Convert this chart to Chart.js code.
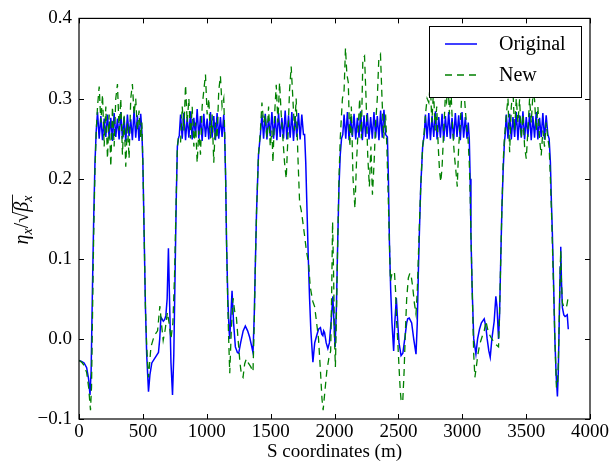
<!DOCTYPE html>
<html><head><meta charset="utf-8">
<script src="https://cdn.jsdelivr.net/npm/chart.js@4/dist/chart.umd.min.js"></script>
<style>html,body{margin:0;padding:0;background:#fff;}canvas{display:block;}</style>
</head><body>
<canvas id="c" width="611" height="462"></canvas>
<script>
const xTicks = [0, 500, 1000, 1500, 2000, 2500, 3000, 3500, 4000];
const yTicks = [-0.1, 0.0, 0.1, 0.2, 0.3, 0.4];
const seriesNames = ['Original', 'New'];

const origS = [
0,20,40,60,75,86,95,105,115,125,135,
145,158,171,184,197,210,223,236,249,262,275,288,301,314,327,340,353,366,379,392,405,418,431,444,457,470,483,492,
500,510,520,530,544,555,570,590,610,622,632,641,650,660,670,680,690,700,710,720,732,742,752,762,770,778,
785,795,808,821,834,847,860,873,886,899,912,925,938,951,964,977,990,1003,1016,1029,1042,1055,1068,1081,1094,1107,1120,1133,1140,
1148,1155,1165,1175,1180,1189,1198,1210,1224,1240,1250,1265,1285,1302,1320,1336,1350,1362,1372,1380,1390,1405,1420,
1432,1445,1458,1471,1484,1497,1510,1523,1536,1549,1562,1575,1588,1601,1614,1627,1640,1653,1666,1679,1692,1705,1718,1731,1744,1757,1766,
1775,1785,1795,1805,1815,1831,1845,1857,1875,1890,1900,1909,1915,1922,1935,1948,1960,1975,1987,1996,2005,2015,2025,2035,2045,2055,2065,
2075,2088,2101,2114,2127,2140,2153,2166,2179,2192,2205,2218,2231,2244,2257,2270,2283,2296,2309,2322,2335,2348,2361,2374,2387,2400,2414,
2422,2430,2440,2450,2463,2472,2484,2495,2505,2521,2535,2550,2565,2573,2585,2604,2620,2638,2648,2656,2664,2675,2690,2703,
2712,2725,2738,2751,2764,2777,2790,2803,2816,2829,2842,2855,2868,2881,2894,2907,2920,2933,2946,2959,2972,2985,2998,3011,3024,3037,3047,3055,
3062,3068,3078,3090,3107,3120,3135,3150,3172,3185,3195,3208,3219,3232,3250,3263,3272,3284,3292,3300,3310,3320,3330,3336,
3345,3358,3371,3384,3397,3410,3423,3436,3449,3462,3475,3488,3501,3514,3527,3540,3553,3566,3579,3592,3605,3618,3631,3644,3657,3670,3680,
3690,3698,3705,3715,3725,3735,3745,3752,3760,3767,3771,3777,3784,3795,3805,3815,3822,3830
];
const origY = [
-0.027,-0.028,-0.030,-0.036,-0.050,-0.070,-0.040,0.060,0.150,0.220,0.260,
0.283,0.250,0.278,0.248,0.275,0.252,0.280,0.250,0.276,0.247,0.282,0.252,0.275,0.249,0.283,0.250,0.277,0.246,0.280,0.253,0.274,0.248,0.286,0.251,0.279,0.247,0.281,0.260,
0.220,0.130,0.040,-0.020,-0.066,-0.045,-0.030,-0.025,-0.020,-0.017,0.000,0.027,0.025,0.022,0.024,0.029,0.050,0.113,0.040,-0.030,-0.070,-0.020,0.080,0.180,0.240,0.250,
0.254,0.280,0.250,0.282,0.248,0.277,0.251,0.284,0.249,0.276,0.253,0.287,0.250,0.278,0.247,0.281,0.252,0.275,0.249,0.283,0.251,0.278,0.248,0.282,0.250,0.277,0.252,0.280,0.255,
0.200,0.120,0.050,0.010,0.000,0.030,0.060,0.020,-0.010,-0.017,-0.018,-0.005,0.010,0.016,0.010,0.002,-0.008,-0.017,0.030,0.090,0.160,0.230,0.255,
0.280,0.250,0.281,0.249,0.276,0.253,0.283,0.250,0.278,0.248,0.282,0.252,0.276,0.250,0.285,0.249,0.279,0.251,0.283,0.247,0.278,0.252,0.282,0.249,0.280,0.255,0.255,
0.220,0.160,0.100,0.050,0.010,-0.029,-0.005,0.002,0.012,0.014,0.006,0.004,0.010,0.008,-0.005,-0.012,-0.005,0.025,0.053,0.020,-0.010,0.040,0.120,0.190,0.230,0.250,0.255,
0.280,0.250,0.283,0.248,0.277,0.252,0.281,0.249,0.276,0.251,0.284,0.248,0.279,0.252,0.282,0.249,0.277,0.250,0.283,0.251,0.278,0.248,0.285,0.251,0.286,0.255,0.252,
0.200,0.120,0.060,0.020,-0.015,0.020,0.051,0.020,-0.005,-0.021,-0.018,0.000,0.020,0.025,0.026,0.020,0.000,-0.019,0.020,0.080,0.130,0.190,0.240,0.255,
0.280,0.250,0.282,0.248,0.278,0.252,0.284,0.249,0.277,0.251,0.281,0.247,0.278,0.252,0.283,0.250,0.276,0.249,0.282,0.252,0.279,0.248,0.283,0.251,0.277,0.250,0.270,0.250,
0.200,0.130,0.060,0.000,-0.019,0.000,0.012,0.020,0.025,0.015,0.000,-0.015,-0.023,0.000,0.022,0.053,0.040,0.000,0.030,0.090,0.160,0.210,0.245,0.255,
0.280,0.250,0.281,0.249,0.277,0.252,0.283,0.248,0.279,0.251,0.284,0.249,0.277,0.252,0.282,0.248,0.278,0.251,0.283,0.249,0.276,0.252,0.282,0.249,0.279,0.255,0.250,
0.220,0.170,0.134,0.070,0.000,-0.045,-0.072,-0.040,0.030,0.090,0.115,0.070,0.039,0.030,0.028,0.029,0.030,0.012
];

const newS = [
0,20,40,60,75,90,98,105,115,125,135,
145,158,171,184,197,210,223,236,249,262,275,288,301,314,327,340,353,366,379,392,405,418,431,444,457,470,483,492,
500,510,520,530,544,563,589,615,633,648,659,675,692,705,720,735,748,760,770,778,
785,795,808,821,834,847,860,873,886,899,912,925,938,951,964,977,990,1003,1016,1029,1042,1055,1068,1081,1094,1107,1120,1133,1140,
1148,1155,1165,1172,1180,1192,1206,1218,1232,1245,1260,1272,1284,1297,1310,1325,1345,1362,1372,1380,1390,1405,1420,
1432,1445,1458,1471,1484,1497,1510,1518,1531,1544,1557,1570,1583,1596,1609,1622,1635,1648,1661,1674,1687,1700,1713,1727,1740,1752,
1765,1780,1797,1810,1830,1845,1860,1875,1890,1902,1911,1925,1940,1955,1970,1978,1985,1993,2000,2007,2015,2025,2035,2045,2055,2062,
2075,2086,2097,2108,2120,2132,2145,2160,2172,2185,2197,2210,2222,2235,2247,2260,2273,2285,2297,2310,2322,2335,2347,2360,2372,2385,2400,2410,
2420,2430,2438,2448,2458,2469,2478,2487,2495,2505,2515,2521,2534,2545,2555,2565,2578,2590,2599,2612,2625,2638,2648,2656,2664,2675,2690,2703,
2712,2725,2738,2750,2762,2775,2788,2800,2812,2822,2832,2842,2855,2867,2877,2888,2900,2912,2925,2938,2950,2961,2972,2985,2998,3010,3020,3032,3045,3055,
3062,3068,3078,3090,3099,3110,3122,3135,3146,3160,3172,3185,3195,3205,3224,3240,3255,3270,3284,3292,3300,3310,3320,3330,
3345,3358,3371,3384,3397,3410,3423,3436,3449,3462,3475,3488,3501,3514,3527,3540,3553,3566,3579,3592,3605,3618,3631,3644,3657,3670,3680,
3690,3700,3712,3725,3737,3745,3752,3760,3767,3771,3777,3784,3795,3805,3815,3822,3830
];
const newY = [
-0.027,-0.029,-0.033,-0.042,-0.060,-0.089,-0.060,0.020,0.130,0.210,0.260,
0.290,0.315,0.270,0.305,0.240,0.290,0.225,0.280,0.215,0.290,0.240,0.300,0.318,0.260,0.300,0.230,0.280,0.215,0.270,0.225,0.300,0.318,0.280,0.300,0.260,0.285,0.250,0.270,
0.220,0.130,0.040,-0.010,-0.048,-0.010,0.004,0.010,0.041,0.015,-0.002,0.012,0.033,0.020,0.000,0.020,0.080,0.170,0.240,0.250,
0.250,0.245,0.290,0.260,0.317,0.270,0.300,0.250,0.290,0.240,0.270,0.220,0.260,0.230,0.290,0.310,0.330,0.280,0.300,0.250,0.280,0.220,0.270,0.250,0.310,0.328,0.290,0.300,0.260,
0.200,0.120,0.040,-0.002,-0.043,0.010,0.051,0.035,0.027,0.000,-0.030,-0.045,-0.048,-0.031,-0.025,-0.030,-0.035,-0.041,0.020,0.090,0.160,0.230,0.260,
0.295,0.270,0.280,0.250,0.290,0.240,0.260,0.220,0.280,0.317,0.270,0.320,0.280,0.250,0.220,0.200,0.250,0.310,0.340,0.300,0.260,0.300,0.230,0.170,0.160,0.146,
0.130,0.110,0.095,0.065,0.047,0.040,0.020,0.000,-0.040,-0.075,-0.089,-0.065,-0.040,-0.025,-0.015,0.060,0.146,0.080,0.000,-0.035,0.030,0.120,0.200,0.250,0.280,0.300,
0.310,0.363,0.330,0.320,0.240,0.290,0.200,0.163,0.220,0.260,0.300,0.250,0.350,0.353,0.300,0.229,0.190,0.240,0.180,0.220,0.270,0.300,0.350,0.355,0.300,0.250,0.280,0.240,
0.180,0.120,0.072,0.080,0.082,0.084,0.060,0.020,-0.002,-0.035,-0.065,-0.076,-0.079,-0.040,0.010,0.050,0.076,0.082,0.080,0.065,0.045,0.031,0.060,0.100,0.140,0.190,0.240,0.260,
0.280,0.300,0.295,0.320,0.270,0.310,0.260,0.290,0.240,0.210,0.196,0.214,0.260,0.300,0.295,0.320,0.280,0.310,0.260,0.230,0.210,0.190,0.240,0.270,0.310,0.330,0.295,0.270,0.250,0.220,
0.180,0.130,0.060,-0.020,-0.048,-0.035,-0.020,-0.008,-0.002,0.005,0.010,0.022,0.015,0.008,0.002,-0.002,-0.006,-0.008,-0.010,0.030,0.090,0.160,0.220,0.250,
0.280,0.300,0.233,0.290,0.310,0.260,0.300,0.270,0.299,0.250,0.280,0.240,0.225,0.260,0.300,0.270,0.305,0.299,0.260,0.290,0.250,0.229,0.260,0.240,0.270,0.250,0.240,
0.200,0.150,0.080,0.000,-0.060,-0.060,-0.030,0.030,0.090,0.110,0.070,0.045,0.040,0.039,0.039,0.045,0.053
];

const colors = ['#0000ff', '#008000'];
const serif = "'Liberation Serif', 'DejaVu Serif', serif";

function pts(S, Y) { return S.map((s, i) => ({ x: s, y: Y[i] })); }

const framePlugin = {
  id: 'frame',
  afterDraw(chart) {
    const { ctx, chartArea: a, scales } = chart;
    ctx.save();
    ctx.strokeStyle = '#000';
    ctx.lineWidth = 1.2;
    ctx.strokeRect(a.left, a.top, a.right - a.left, a.bottom - a.top);
    const tl = 5;
    ctx.lineWidth = 1;
    ctx.beginPath();
    xTicks.forEach(v => {
      const px = Math.round(scales.x.getPixelForValue(v)) + 0.5;
      ctx.moveTo(px, a.bottom); ctx.lineTo(px, a.bottom - tl);
      ctx.moveTo(px, a.top); ctx.lineTo(px, a.top + tl);
    });
    yTicks.forEach(v => {
      const py = Math.round(scales.y.getPixelForValue(v)) + 0.5;
      ctx.moveTo(a.left, py); ctx.lineTo(a.left + tl, py);
      ctx.moveTo(a.right, py); ctx.lineTo(a.right - tl, py);
    });
    ctx.stroke();

    // legend
    const lx = 429, ly = 26, lw = 152, lh = 71;
    ctx.fillStyle = '#fff';
    ctx.fillRect(lx, ly, lw, lh);
    ctx.strokeStyle = '#000';
    ctx.lineWidth = 1;
    ctx.strokeRect(lx + 0.5, ly + 0.5, lw, lh);
    const rows = [44, 75];
    seriesNames.forEach((name, i) => {
      ctx.strokeStyle = colors[i];
      ctx.lineWidth = 1.5;
      ctx.setLineDash(i === 1 ? [7, 5] : []);
      ctx.beginPath();
      ctx.moveTo(445, rows[i]); ctx.lineTo(477, rows[i]);
      ctx.stroke();
      ctx.setLineDash([]);
      ctx.fillStyle = '#000';
      ctx.font = '20px ' + serif;
      ctx.textBaseline = 'middle';
      ctx.textAlign = 'left';
      ctx.fillText(name, 499, rows[i] + 1);
    });

    // y-axis label: eta_x / sqrt(beta_x)
    ctx.translate(22, 220);
    ctx.rotate(-Math.PI / 2);
    const big = 'italic 20px ' + serif, small = 'italic 14px ' + serif, reg = '20px ' + serif;
    const parts = [
      { t: 'η', f: big, dy: 0 },
      { t: 'x', f: small, dy: 4 },
      { t: '/', f: reg, dy: 0 },
      { t: '√', f: reg, dy: 0 },
      { t: 'β', f: big, dy: 0, over: true },
      { t: 'x', f: small, dy: 4, over: true }
    ];
    let total = 0;
    parts.forEach(p => { ctx.font = p.f; p.w = ctx.measureText(p.t).width; total += p.w; });
    let x = -total / 2;
    ctx.fillStyle = '#000';
    ctx.textBaseline = 'alphabetic';
    let overStart = null, overEnd = null;
    parts.forEach(p => {
      ctx.font = p.f;
      ctx.fillText(p.t, x, 6 + p.dy);
      if (p.over) { if (overStart === null) overStart = x; overEnd = x + p.w; }
      x += p.w;
    });
    ctx.strokeStyle = '#000';
    ctx.lineWidth = 0.9;
    ctx.beginPath();
    ctx.moveTo(overStart - 1, -9.5);
    ctx.lineTo(overEnd + 1, -9.5);
    ctx.stroke();
    ctx.restore();
  }
};

new Chart(document.getElementById('c'), {
  type: 'line',
  data: {
    datasets: [
      { label: seriesNames[0], data: pts(origS, origY), borderColor: colors[0], borderWidth: 1.5,
        pointRadius: 0, fill: false, tension: 0, order: 2 },
      { label: seriesNames[1], data: pts(newS, newY), borderColor: colors[1], borderWidth: 1.3,
        borderDash: [7, 5], pointRadius: 0, fill: false, tension: 0, order: 1 }
    ]
  },
  options: {
    responsive: false,
    animation: false,
    layout: { padding: { top: 15, right: 20, left: 0, bottom: 0 } },
    plugins: { legend: { display: false }, tooltip: { enabled: false } },
    scales: {
      x: {
        type: 'linear', min: 0, max: 4000,
        afterBuildTicks: s => { s.ticks = xTicks.map(v => ({ value: v })); },
        afterFit: s => { s.height = 43; },
        grid: { display: false, drawTicks: false },
        border: { display: false },
        ticks: { font: { family: serif, size: 19 }, color: '#000', padding: 2, maxRotation: 0, autoSkip: false,
          callback: v => String(v) },
        title: { display: true, text: 'S coordinates (m)', font: { family: serif, size: 19, lineHeight: 1 }, color: '#000',
          padding: { top: 0, bottom: 0 } }
      },
      y: {
        type: 'linear', min: -0.1, max: 0.4,
        afterBuildTicks: s => { s.ticks = yTicks.map(v => ({ value: v })); },
        afterFit: s => { s.width = 79; },
        grid: { display: false, drawTicks: false },
        border: { display: false },
        ticks: { font: { family: serif, size: 19 }, color: '#000', padding: 7, autoSkip: false,
          callback: v => (v < -1e-9 ? '\u2212' : '') + Math.abs(v).toFixed(1) }
      }
    }
  },
  plugins: [framePlugin]
});
</script>
</body></html>
